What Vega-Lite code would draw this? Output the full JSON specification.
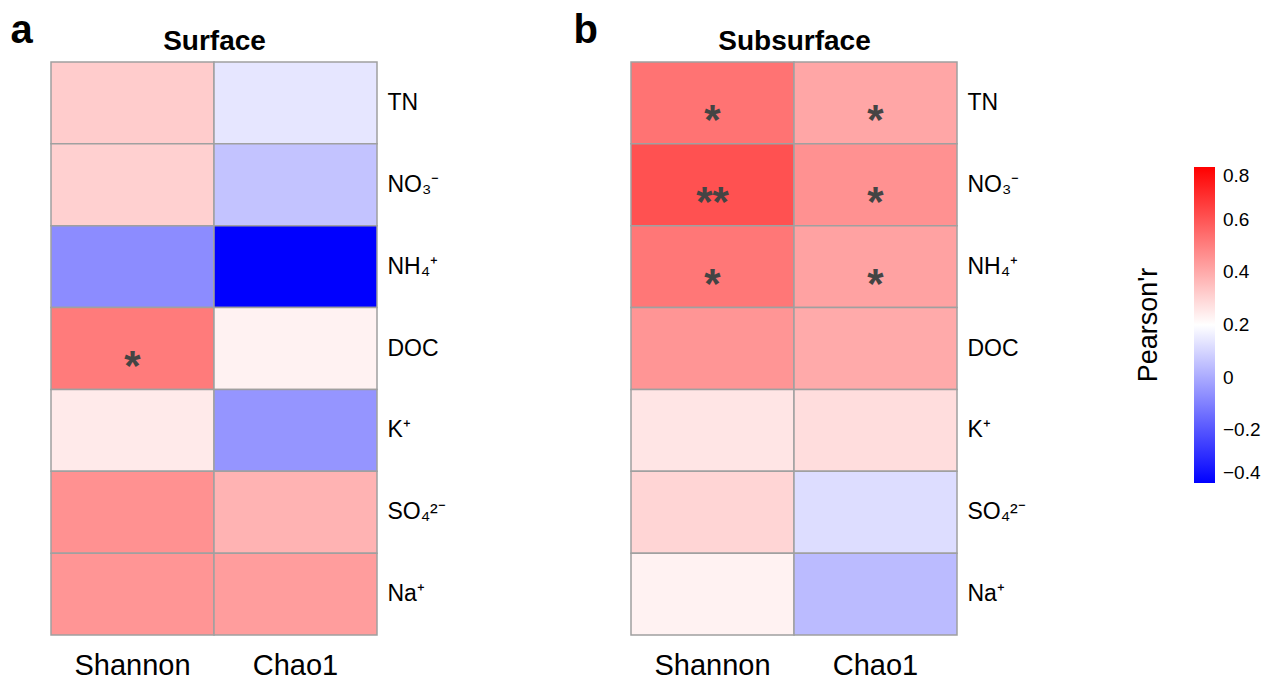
{
  "$schema": "https://vega.github.io/schema/vega-lite/v6.json",
  "padding": {"left": 10, "top": 10, "right": 5, "bottom": 5},
  "config": {
    "font": "Liberation Sans",
    "view": {"stroke": null},
    "axis": {"labelColor": "black", "titleColor": "black"}
  },
  "data": {
    "values": [
      {"panel": "Surface", "metric": "Shannon", "var": "TN", "r": 0.32, "sig": ""},
      {"panel": "Surface", "metric": "Shannon", "var": "NO₃⁻", "r": 0.31, "sig": ""},
      {"panel": "Surface", "metric": "Shannon", "var": "NH₄⁺", "r": -0.07, "sig": ""},
      {"panel": "Surface", "metric": "Shannon", "var": "DOC", "r": 0.51, "sig": "*"},
      {"panel": "Surface", "metric": "Shannon", "var": "K⁺", "r": 0.25, "sig": ""},
      {"panel": "Surface", "metric": "Shannon", "var": "SO₄²⁻", "r": 0.46, "sig": ""},
      {"panel": "Surface", "metric": "Shannon", "var": "Na⁺", "r": 0.45, "sig": ""},
      {"panel": "Surface", "metric": "Chao1", "var": "TN", "r": 0.14, "sig": ""},
      {"panel": "Surface", "metric": "Chao1", "var": "NO₃⁻", "r": 0.06, "sig": ""},
      {"panel": "Surface", "metric": "Chao1", "var": "NH₄⁺", "r": -0.4, "sig": ""},
      {"panel": "Surface", "metric": "Chao1", "var": "DOC", "r": 0.23, "sig": ""},
      {"panel": "Surface", "metric": "Chao1", "var": "K⁺", "r": -0.05, "sig": ""},
      {"panel": "Surface", "metric": "Chao1", "var": "SO₄²⁻", "r": 0.38, "sig": ""},
      {"panel": "Surface", "metric": "Chao1", "var": "Na⁺", "r": 0.43, "sig": ""},
      {"panel": "Subsurface", "metric": "Shannon", "var": "TN", "r": 0.53, "sig": "*"},
      {"panel": "Subsurface", "metric": "Shannon", "var": "NO₃⁻", "r": 0.61, "sig": "**"},
      {"panel": "Subsurface", "metric": "Shannon", "var": "NH₄⁺", "r": 0.52, "sig": "*"},
      {"panel": "Subsurface", "metric": "Shannon", "var": "DOC", "r": 0.45, "sig": ""},
      {"panel": "Subsurface", "metric": "Shannon", "var": "K⁺", "r": 0.26, "sig": ""},
      {"panel": "Subsurface", "metric": "Shannon", "var": "SO₄²⁻", "r": 0.3, "sig": ""},
      {"panel": "Subsurface", "metric": "Shannon", "var": "Na⁺", "r": 0.23, "sig": ""},
      {"panel": "Subsurface", "metric": "Chao1", "var": "TN", "r": 0.41, "sig": "*"},
      {"panel": "Subsurface", "metric": "Chao1", "var": "NO₃⁻", "r": 0.46, "sig": "*"},
      {"panel": "Subsurface", "metric": "Chao1", "var": "NH₄⁺", "r": 0.42, "sig": "*"},
      {"panel": "Subsurface", "metric": "Chao1", "var": "DOC", "r": 0.4, "sig": ""},
      {"panel": "Subsurface", "metric": "Chao1", "var": "K⁺", "r": 0.28, "sig": ""},
      {"panel": "Subsurface", "metric": "Chao1", "var": "SO₄²⁻", "r": 0.12, "sig": ""},
      {"panel": "Subsurface", "metric": "Chao1", "var": "Na⁺", "r": 0.04, "sig": ""}
    ]
  },
  "hconcat": [
    {
      "width": 326,
      "height": 573,
      "transform": [{"filter": "datum.panel === 'Surface'"}],
      "encoding": {
        "x": {"field": "metric", "type": "nominal", "sort": ["Shannon", "Chao1"],
          "scale": {"paddingInner": 0, "paddingOuter": 0},
          "axis": {"orient": "bottom", "title": "a", "titleX": -41, "titleY": -593, "titleFontSize": 40, "titleFontWeight": "bold", "titleAlign": "left", "titleBaseline": "alphabetic", "titleAngle": 0, "labelAngle": 0, "labelFontSize": 29, "labelPadding": 16, "ticks": false, "domain": false}},
        "y": {"field": "var", "type": "nominal", "sort": ["TN", "NO₃⁻", "NH₄⁺", "DOC", "K⁺", "SO₄²⁻", "Na⁺"],
          "scale": {"paddingInner": 0, "paddingOuter": 0},
          "axis": {"orient": "right", "title": "Surface", "titleAngle": 0, "titleX": -163, "titleY": -13, "titleFontSize": 28, "titleFontWeight": "bold", "titleAlign": "center", "titleBaseline": "alphabetic", "labelFontSize": 23, "labelPadding": 10, "ticks": false, "domain": false}}
      },
      "layer": [
        {
          "mark": {"type": "rect", "stroke": "#a0a0a0", "strokeWidth": 1.5},
          "encoding": {
            "color": {"field": "r", "type": "quantitative",
              "scale": {"domain": [-0.4, 0.2, 0.8], "range": ["#0000ff", "#ffffff", "#ff0000"], "interpolate": "rgb"},
              "legend": {"orient": "none", "legendX": 1084, "legendY": 105, "title": "Pearson'r", "titleOrient": "left", "titleAngle": 270, "titleFontSize": 27, "titleFontWeight": "normal", "titlePadding": 30, "gradientLength": 316, "gradientThickness": 21, "labelFontSize": 19, "labelOffset": 8, "values": [-0.4, -0.2, 0, 0.2, 0.4, 0.6, 0.8], "format": ".1~f", "gradientStrokeWidth": 0, "direction": "vertical", "labelOverlap": false, "labelColor": "black", "titleColor": "black"}}
          }
        },
        {
          "mark": {"type": "text", "fontSize": 42, "fontWeight": "bold", "color": "#444444", "baseline": "alphabetic", "dy": 31},
          "encoding": {"text": {"field": "sig"}}
        }
      ]
    },
    {
      "width": 326,
      "height": 573,
      "transform": [{"filter": "datum.panel === 'Subsurface'"}],
      "encoding": {
        "x": {"field": "metric", "type": "nominal", "sort": ["Shannon", "Chao1"],
          "scale": {"paddingInner": 0, "paddingOuter": 0},
          "axis": {"orient": "bottom", "title": "b", "titleX": -58, "titleY": -593, "titleFontSize": 40, "titleFontWeight": "bold", "titleAlign": "left", "titleBaseline": "alphabetic", "titleAngle": 0, "labelAngle": 0, "labelFontSize": 29, "labelPadding": 16, "ticks": false, "domain": false}},
        "y": {"field": "var", "type": "nominal", "sort": ["TN", "NO₃⁻", "NH₄⁺", "DOC", "K⁺", "SO₄²⁻", "Na⁺"],
          "scale": {"paddingInner": 0, "paddingOuter": 0},
          "axis": {"orient": "right", "title": "Subsurface", "titleAngle": 0, "titleX": -163, "titleY": -13, "titleFontSize": 28, "titleFontWeight": "bold", "titleAlign": "center", "titleBaseline": "alphabetic", "labelFontSize": 23, "labelPadding": 10, "ticks": false, "domain": false}}
      },
      "layer": [
        {
          "mark": {"type": "rect", "stroke": "#a0a0a0", "strokeWidth": 1.5},
          "encoding": {
            "color": {"field": "r", "type": "quantitative",
              "scale": {"domain": [-0.4, 0.2, 0.8], "range": ["#0000ff", "#ffffff", "#ff0000"], "interpolate": "rgb"}}
          }
        },
        {
          "mark": {"type": "text", "fontSize": 42, "fontWeight": "bold", "color": "#444444", "baseline": "alphabetic", "dy": 31},
          "encoding": {"text": {"field": "sig"}}
        }
      ]
    }
  ],
  "spacing": 254,
  "bounds": "flush",
  "resolve": {"scale": {"color": "shared"}}
}
